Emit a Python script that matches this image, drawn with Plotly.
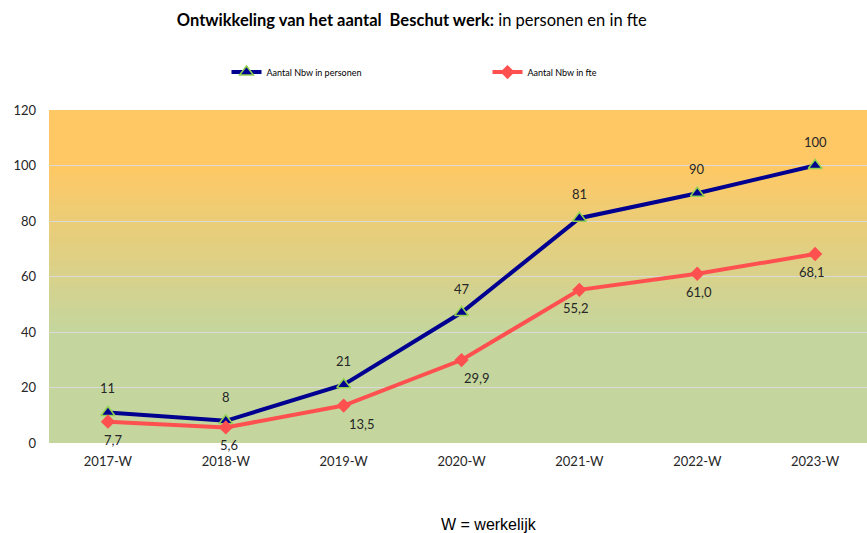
import plotly.graph_objects as go

categories = ["2017-W", "2018-W", "2019-W", "2020-W", "2021-W", "2022-W", "2023-W"]
personen = [11, 8, 21, 47, 81, 90, 100]
fte = [7.7, 5.6, 13.5, 29.9, 55.2, 61.0, 68.1]
y_ticks = [0, 20, 40, 60, 80, 100, 120]

# label offsets (style) for the fte labels, in pixels
fte_label_dx = [5, 3, 18, 15, -3, 2, -3]

FONT = "Lato"
TXT = "#262626"

fig = go.Figure()

# gradient background bands (overlapping to avoid seams)
top_c = (255, 200, 100)
green_c = (196, 214, 158)
n = 60
step = 120 / n
for i in range(n):
    y0 = i * step
    y1 = min(120, y0 + step * 2)
    ym = y0 + step / 2
    if ym >= 100:
        t = 1.0
    elif ym <= 40:
        t = 0.0
    else:
        t = (ym - 40) / 60
    c = tuple(int(round(green_c[k] + (top_c[k] - green_c[k]) * t)) for k in range(3))
    fig.add_shape(type="rect", xref="paper", yref="y", x0=0, x1=1, y0=y0, y1=y1,
                  fillcolor=f"rgb{c}", line_width=0, layer="below")

fig.add_trace(go.Scatter(
    x=categories, y=personen, name="Aantal Nbw in personen", mode="lines+markers",
    line=dict(color="#000090", width=4),
    marker=dict(symbol="triangle-up", size=12, color="#000090",
                line=dict(color="#92D050", width=1.5)),
))
fig.add_trace(go.Scatter(
    x=categories, y=fte, name="Aantal Nbw in fte", mode="lines+markers",
    line=dict(color="#FF5050", width=4),
    marker=dict(symbol="diamond", size=11, color="#FF5050"),
))

for c, v in zip(categories, personen):
    fig.add_annotation(x=c, y=v, text=str(v), showarrow=False, yshift=24,
                       font=dict(family=FONT, size=13, color=TXT))
for c, v, dx in zip(categories, fte, fte_label_dx):
    fig.add_annotation(x=c, y=v, text=f"{v:.1f}".replace(".", ","), showarrow=False,
                       yshift=-18, xshift=dx, font=dict(family=FONT, size=13, color=TXT))

fig.add_annotation(xref="paper", yref="paper", x=0.538, y=-0.244, yanchor="middle",
                   text="W = werkelijk", showarrow=False,
                   font=dict(family="Liberation Sans", size=16, color="#000000"))

fig.update_layout(
    width=867, height=533,
    margin=dict(l=49, r=0, t=110, b=90, autoexpand=False),
    paper_bgcolor="white", plot_bgcolor="rgba(0,0,0,0)",
    title=dict(text="<b>Ontwikkeling van het aantal  Beschut werk:</b> in personen en in fte",
               x=0.475, xanchor="center", y=0.962, yanchor="middle",
               font=dict(family=FONT, size=16.5, color="#000000")),
    legend=dict(orientation="h", x=0.217, xanchor="left", y=1.114, yanchor="middle",
                font=dict(family=FONT, size=9, color="#000000"),
                entrywidth=216, itemwidth=30, bgcolor="rgba(0,0,0,0)"),
    showlegend=True,
    font=dict(family=FONT, color=TXT),
)
fig.update_xaxes(range=[-0.5, 6.44], showgrid=False, showline=False, ticks="",
                 automargin=False, ticklabelstandoff=9,
                 tickfont=dict(family=FONT, size=13, color=TXT))
fig.update_yaxes(range=[0, 120], tickvals=y_ticks, showgrid=True, gridcolor="#DADADA",
                 gridwidth=1.3, zeroline=False, showline=False, ticks="",
                 ticklabelstandoff=12, automargin=False,
                 tickfont=dict(family=FONT, size=13, color=TXT))

fig.write_html("out.html", config={"displayModeBar": False},
               post_script="document.body.style.margin='0';document.body.style.overflow='hidden';")
